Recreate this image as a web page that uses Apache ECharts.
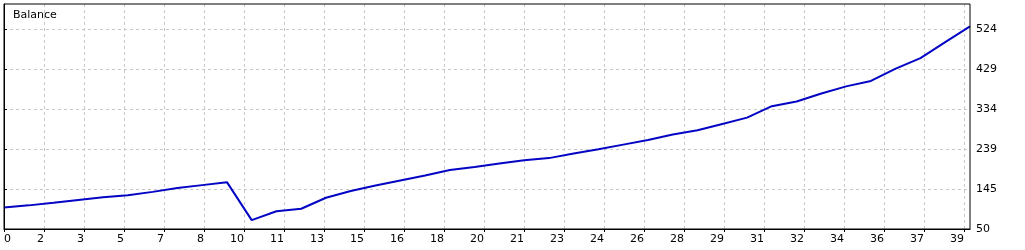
<!DOCTYPE html>
<html>
<head>
<meta charset="utf-8">
<script src="https://cdn.jsdelivr.net/npm/echarts@6/dist/echarts.min.js"></script>
<style>html,body{margin:0;padding:0;background:#fff;}#c{width:1025px;height:250px;}</style>
</head>
<body>
<div id="c"></div>
<script>
// Balance by trade number (0..39)
var trades = [0,1,2,3,4,5,6,7,8,9,10,11,12,13,14,15,16,17,18,19,20,21,22,23,24,25,26,27,28,29,30,31,32,33,34,35,36,37,38,39];
var balance = [101,106,112,119,125,130,138,147,154,161,71,92,98,124,140,153,165,177,190,197,205,213,218,229,239,250,261,274,284,299,314,341,352,371,388,401,430,455,493,530];
var xTickLabels = ['0','2','3','5','7','8','10','11','13','15','16','18','20','21','23','24','26','28','29','31','32','34','36','37','39'];
var yTickLabels = ['50','145','239','334','429','524'];
var yMin = 50, yStep = 94.8;

var font = 'DejaVu Sans';
var gridW = 966, gridH = 225, cell = 40;
var chart = echarts.init(document.getElementById('c'), null, {renderer: 'canvas'});
var dashed = {show: true, showMinLine: false, showMaxLine: false, lineStyle: {color: '#c8c8c8', type: [3, 3], width: 1}};
chart.setOption({
  animation: false,
  backgroundColor: '#ffffff',
  title: {text: 'Balance', left: 8, top: 5, textStyle: {fontFamily: font, fontSize: 11, fontWeight: 'normal', color: '#000'}},
  grid: {left: 4, right: 55, top: 4, bottom: 21, show: true, borderColor: '#000', borderWidth: 1, backgroundColor: 'transparent', z: 5},
  xAxis: [
    {type: 'value', min: 0, max: trades[trades.length - 1], show: false, position: 'top'},
    {type: 'value', min: 0, max: gridW / cell, interval: 1, position: 'bottom',
     axisLine: {show: true, lineStyle: {color: '#000'}},
     axisTick: {show: true, length: 3, lineStyle: {color: '#000'}},
     splitLine: dashed,
     axisLabel: {show: true, margin: 5, align: 'right', alignMinLabel: 'left', showMaxLabel: false,
       fontFamily: font, fontSize: 11, color: '#000',
       formatter: function (v) { var i = Math.round(v); return (Math.abs(v - i) < 1e-6 && xTickLabels[i] !== undefined) ? xTickLabels[i] : ''; }}}
  ],
  yAxis: [
    {type: 'value', min: yMin, max: yMin + (gridH / cell) * yStep, show: false, position: 'left'},
    {type: 'value', min: 0, max: gridH / cell, interval: 1, position: 'right',
     axisLine: {show: true, lineStyle: {color: '#000'}},
     axisTick: {show: true, length: 3, lineStyle: {color: '#000'}},
     splitLine: dashed,
     axisLabel: {show: true, margin: 6, showMaxLabel: false, fontFamily: font, fontSize: 11, color: '#000',
       padding: [4, 0, 0, 0],
       formatter: function (v) { var i = Math.round(v); return (Math.abs(v - i) < 1e-6 && yTickLabels[i] !== undefined) ? yTickLabels[i] : ''; }}}
  ],
  series: [{
    type: 'line', xAxisIndex: 0, yAxisIndex: 0, showSymbol: false, smooth: false,
    lineStyle: {color: '#0404c4', width: 2},
    data: trades.map(function (t, i) { return [t, balance[i]]; })
  }]
});
</script>
</body>
</html>
